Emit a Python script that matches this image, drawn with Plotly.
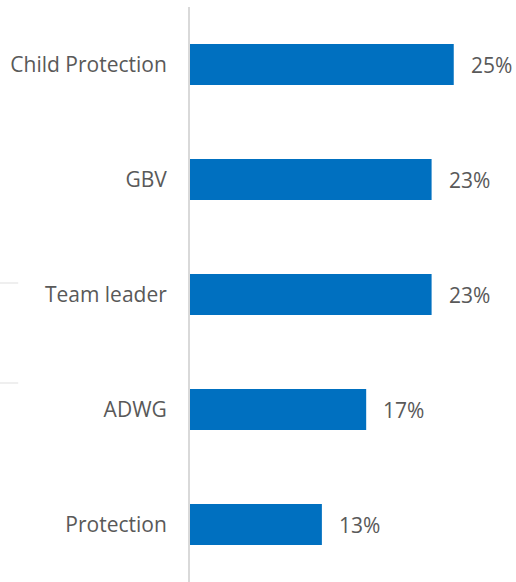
'''
    Horizontal bar chart of the share of respondents by area of responsibility.
'''

import plotly.graph_objects as go

categories = ["Child Protection", "GBV", "Team leader", "ADWG", "Protection"]
shares = [25.0, 22.9, 22.9, 16.7, 12.5]
share_labels = ["25%", "23%", "23%", "17%", "13%"]

BAR_COLOR = "#0070C0"
TEXT_COLOR = "#595959"
FONT = "Open Sans"
FONT_SIZE = 21

fig = go.Figure(go.Bar(
    x=shares, y=categories, orientation="h",
    marker=dict(color=BAR_COLOR, line=dict(width=0)),
    hoverinfo="skip",
))

# value labels to the right of each bar
for cat, val, lab in zip(categories, shares, share_labels):
    fig.add_annotation(x=val, y=cat, text=lab, showarrow=False,
                       xanchor="left", xshift=15,
                       font=dict(family=FONT, size=FONT_SIZE, color=TEXT_COLOR))

# faint leftover lines at the left edge
for yy in [0.520, 0.346]:
    fig.add_shape(type="line", xref="paper", yref="paper",
                  x0=-0.583, x1=-0.527, y0=yy, y1=yy,
                  line=dict(color="#EFEFEF", width=2))

fig.update_layout(
    width=516, height=582,
    margin=dict(l=190, r=0, t=7, b=0),
    plot_bgcolor="white", paper_bgcolor="white",
    bargap=0.643,
    showlegend=False,
    font=dict(family=FONT, size=FONT_SIZE, color=TEXT_COLOR),
)
fig.update_xaxes(range=[0, 30.9], visible=False)
fig.update_yaxes(autorange="reversed", showline=True, linecolor="#D9D9D9",
                 linewidth=2, ticks="", ticklabelstandoff=17,
                 tickfont=dict(family=FONT, size=FONT_SIZE, color=TEXT_COLOR),
                 showgrid=False)

# drop the default page margin so the figure sits at the window corner
fig.write_html("out.html", config={"displayModeBar": False},
               post_script="document.body.style.margin='0';")
